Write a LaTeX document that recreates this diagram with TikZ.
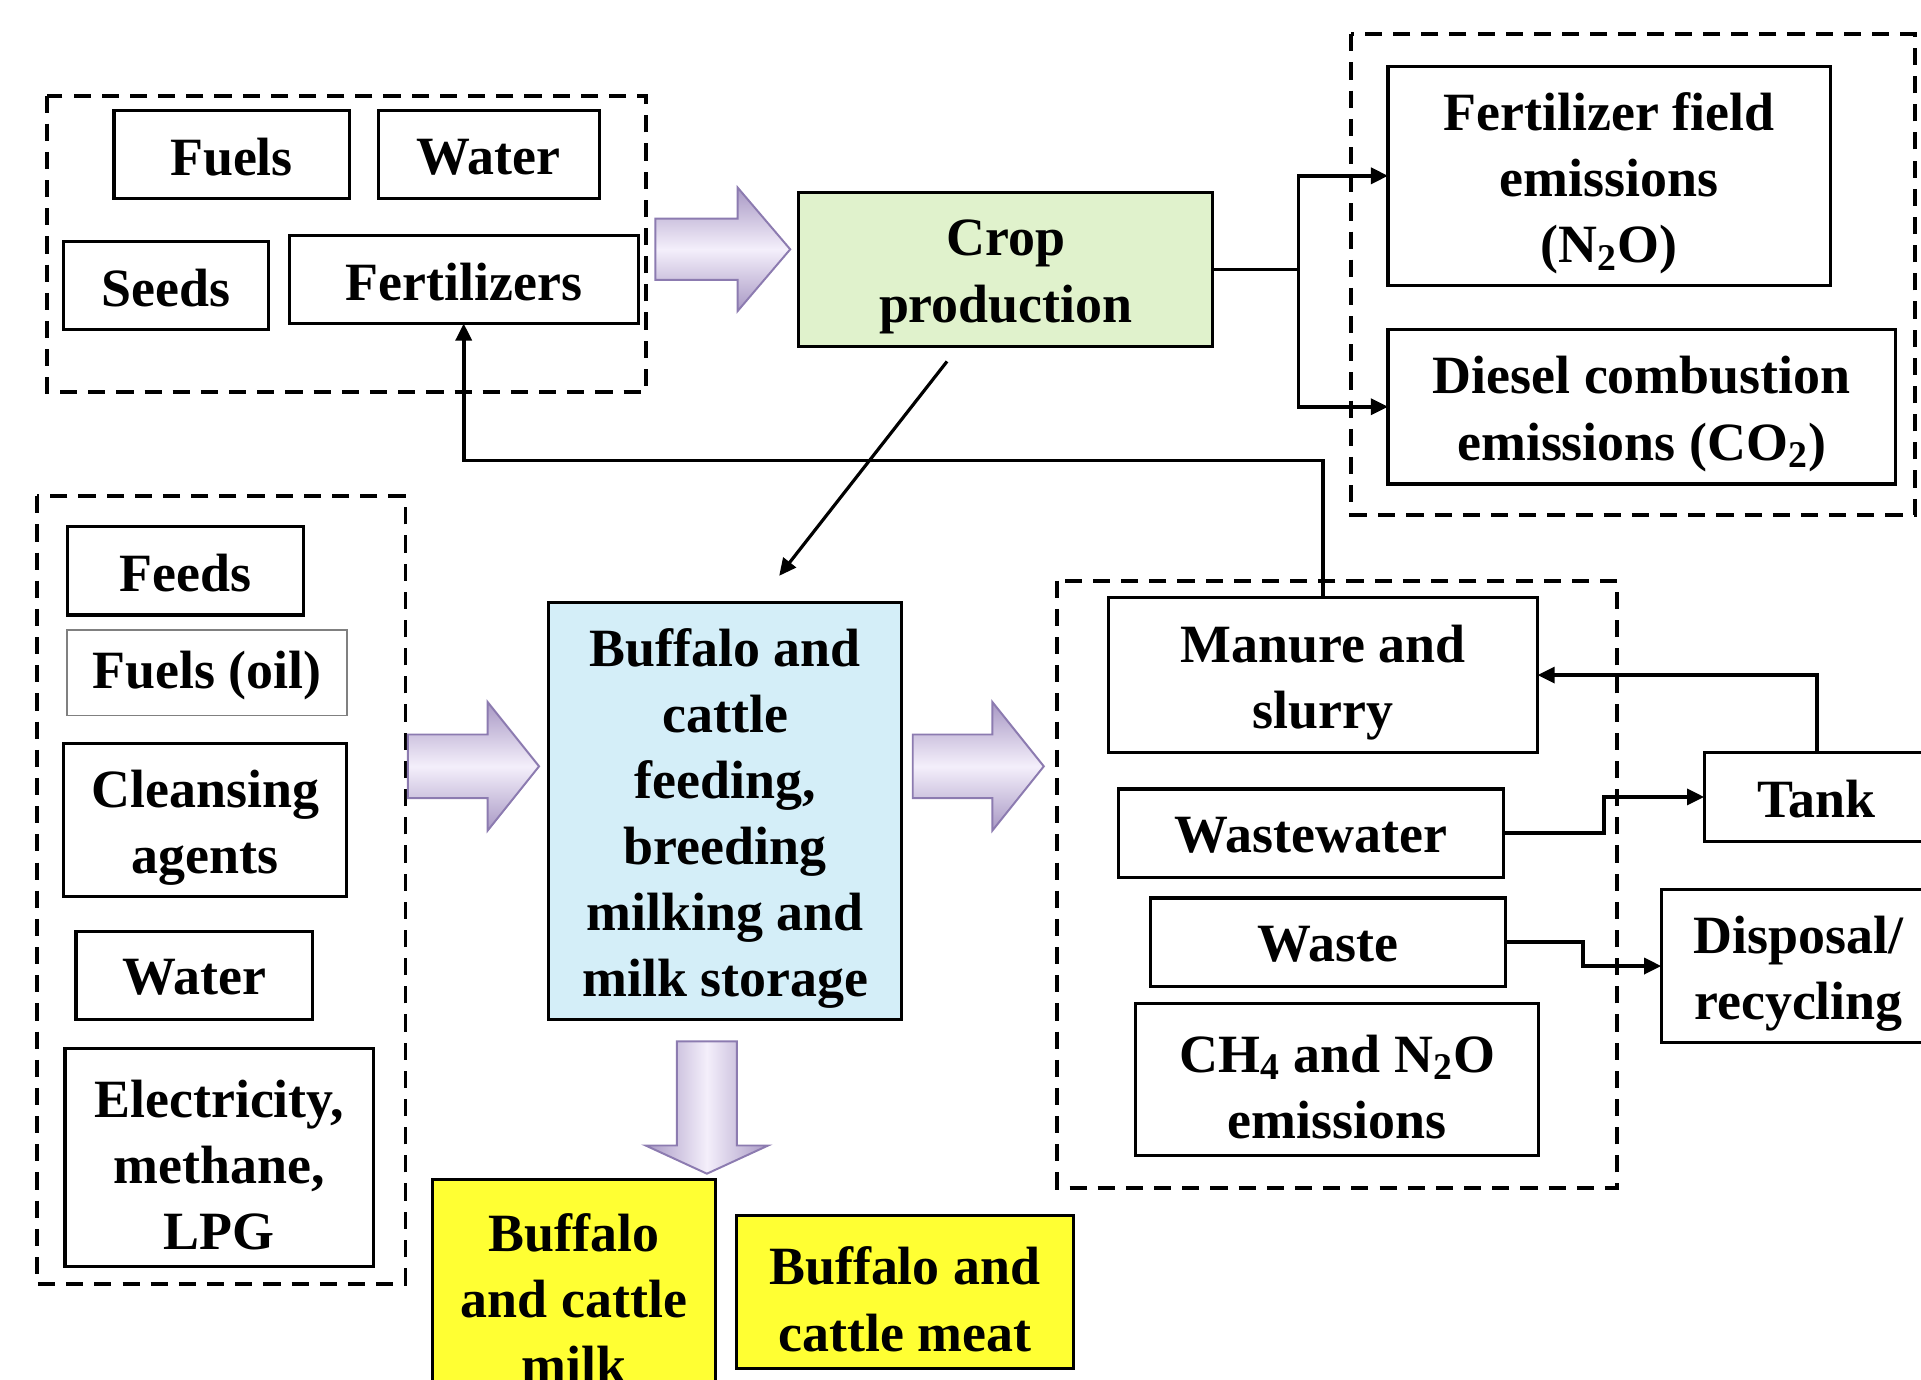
\documentclass[tikz,border=0pt]{standalone}
\usepackage{fontspec}
\setmainfont{Liberation Serif}
\usetikzlibrary{arrows.meta}
\definecolor{cropgreen}{HTML}{E0F2CC}
\definecolor{buffblue}{HTML}{D4EEF8}
\definecolor{prodyellow}{HTML}{FFFF33}
\definecolor{arrowedge}{HTML}{8C7BB0}
\definecolor{arrowlight}{HTML}{F4EFFB}
\definecolor{arrowdark}{HTML}{A898C4}
\newcommand\mkbox[7]{\node[#1, minimum width={(#5-#3)*0.5pt}, minimum height={(#6-#4)*0.5pt}] (#2) at ({(#3+#5)/2},{(#4+#6)/2}) {};
\node[boxtext] (#2-t) at ([yshift=-3pt]#2.center) {#7};}
\newcommand\mkboxone[7]{\node[#1, minimum width={(#5-#3)*0.5pt}, minimum height={(#6-#4)*0.5pt}] (#2) at ({(#3+#5)/2},{(#4+#6)/2}) {};
\node[boxtext] (#2-t) at ([yshift=-1pt]#2.center) {#7};}
\begin{document}
\begin{tikzpicture}[x=0.5pt,y=-0.5pt,
  box/.style={draw, line width=1.3pt, inner sep=0pt, outer sep=0pt},
  boxtext/.style={inner sep=0pt, align=center, font=\fontsize{22}{27}\selectfont\bfseries},
  grp/.style={line width=1.6pt, dash pattern=on 7pt off 4.5pt},
  conn/.style={line width=1.5pt, -{Triangle[length=7pt,width=6.5pt]}},
  plain/.style={line width=1.5pt},
  barrow/.style={draw=arrowedge, line width=0.8pt, top color=arrowdark, bottom color=arrowdark, middle color=arrowlight},
  barrowv/.style={draw=arrowedge, line width=0.8pt, left color=arrowdark, right color=arrowdark, middle color=arrowlight}]
\useasboundingbox (0,0) rectangle (1568,1126);
\clip (0,0) rectangle (1568,1126);

% group A: crop inputs
\draw[grp] (38,78) rectangle (527,320);
\mkboxone{box}{fuels}{93}{90}{285}{162}{Fuels}
\mkboxone{box}{watera}{309}{90}{489}{162}{Water}
\mkboxone{box}{seeds}{52}{197}{219}{269}{Seeds}
\mkboxone{box}{fert}{236}{192}{521}{264}{Fertilizers}

\draw[barrow] (535,178.5) -- (602,178.5) -- (602,153) -- (645,203.5) -- (602,254) -- (602,228.5) -- (535,228.5) -- cycle;

\mkbox{box,fill=cropgreen}{crop}{652}{157}{990}{283}{Crop\\production}

% group B: crop emissions
\draw[grp] (1103,28) rectangle (1563,420);
\mkbox{box}{ffe}{1133}{54}{1494}{233}{Fertilizer field\\emissions\\(N\textsubscript{2}O)}
\mkbox{box}{dce}{1133}{269}{1547}{395}{Diesel combustion\\emissions (CO\textsubscript{2})}

% group C: livestock inputs
\draw[grp] (30,405) rectangle (331,1048);
\mkboxone{box}{feeds}{55}{430}{248}{502}{Feeds}
\mkboxone{box,draw=gray,line width=0.8pt}{fuelsoil}{55}{514}{283}{584}{Fuels (oil)}
\mkbox{box}{clean}{52}{607}{283}{732}{Cleansing\\agents}
\mkboxone{box}{waterc}{62}{760}{255}{832}{Water}
\mkbox{box}{elec}{53}{856}{305}{1034}{Electricity,\\methane,\\LPG}

\draw[barrow] (333,599.5) -- (398,599.5) -- (398,573) -- (440,625.5) -- (398,678) -- (398,651.5) -- (333,651.5) -- cycle;

\mkbox{box,fill=buffblue}{buff}{448}{492}{736}{832}{Buffalo and\\cattle\\feeding,\\breeding\\milking and\\milk storage}

\draw[barrow] (745,599.5) -- (810,599.5) -- (810,573) -- (852,625.5) -- (810,678) -- (810,651.5) -- (745,651.5) -- cycle;

% group D: livestock outputs
\draw[grp] (863,474) rectangle (1320,970);
\mkbox{box}{manure}{905}{488}{1255}{614}{Manure and\\slurry}
\mkboxone{box}{ww}{913}{644}{1227}{716}{Wastewater}
\mkboxone{box}{waste}{939}{733}{1229}{805}{Waste}
\mkbox{box}{ch4}{927}{819}{1256}{943}{CH\textsubscript{4} and N\textsubscript{2}O\\emissions}

\mkboxone{box}{tank}{1391}{614}{1575}{687}{Tank}
\mkbox{box}{disp}{1356}{726}{1580}{851}{Disposal/\\recycling}

% products
\draw[barrowv] (552.5,850) -- (601.5,850) -- (601.5,935) -- (627,935) -- (577,958) -- (527,935) -- (552.5,935) -- cycle;
\mkbox{box,fill=prodyellow}{milk}{353}{963}{584}{1145}{Buffalo\\and cattle\\milk}
\mkbox{box,fill=prodyellow}{meat}{601}{992}{876}{1117}{Buffalo and\\cattle meat}

% connectors
\coordinate (j1) at (1060,220);
\draw[plain] (crop.east) -- (j1);
\draw[conn] (j1) |- (ffe.west);
\draw[conn] (j1) |- (dce.west);

\coordinate (j2) at (1080,376);
\draw[conn] (manure.north) -- (j2) -| (fert.south);

\coordinate (d1) at (773,295);
\coordinate (d2) at (636,470);
\draw[conn,line width=1.3pt] (d1) -- (d2);

\coordinate (j3) at (1309,680);
\draw[conn] (ww.east) -- (j3) |- (tank.west);
\coordinate (j4) at (1292,769);
\draw[conn] (waste.east) -- (j4) |- (disp.west);
\draw[conn] (tank.north) |- (manure.east);
\end{tikzpicture}
\end{document}
